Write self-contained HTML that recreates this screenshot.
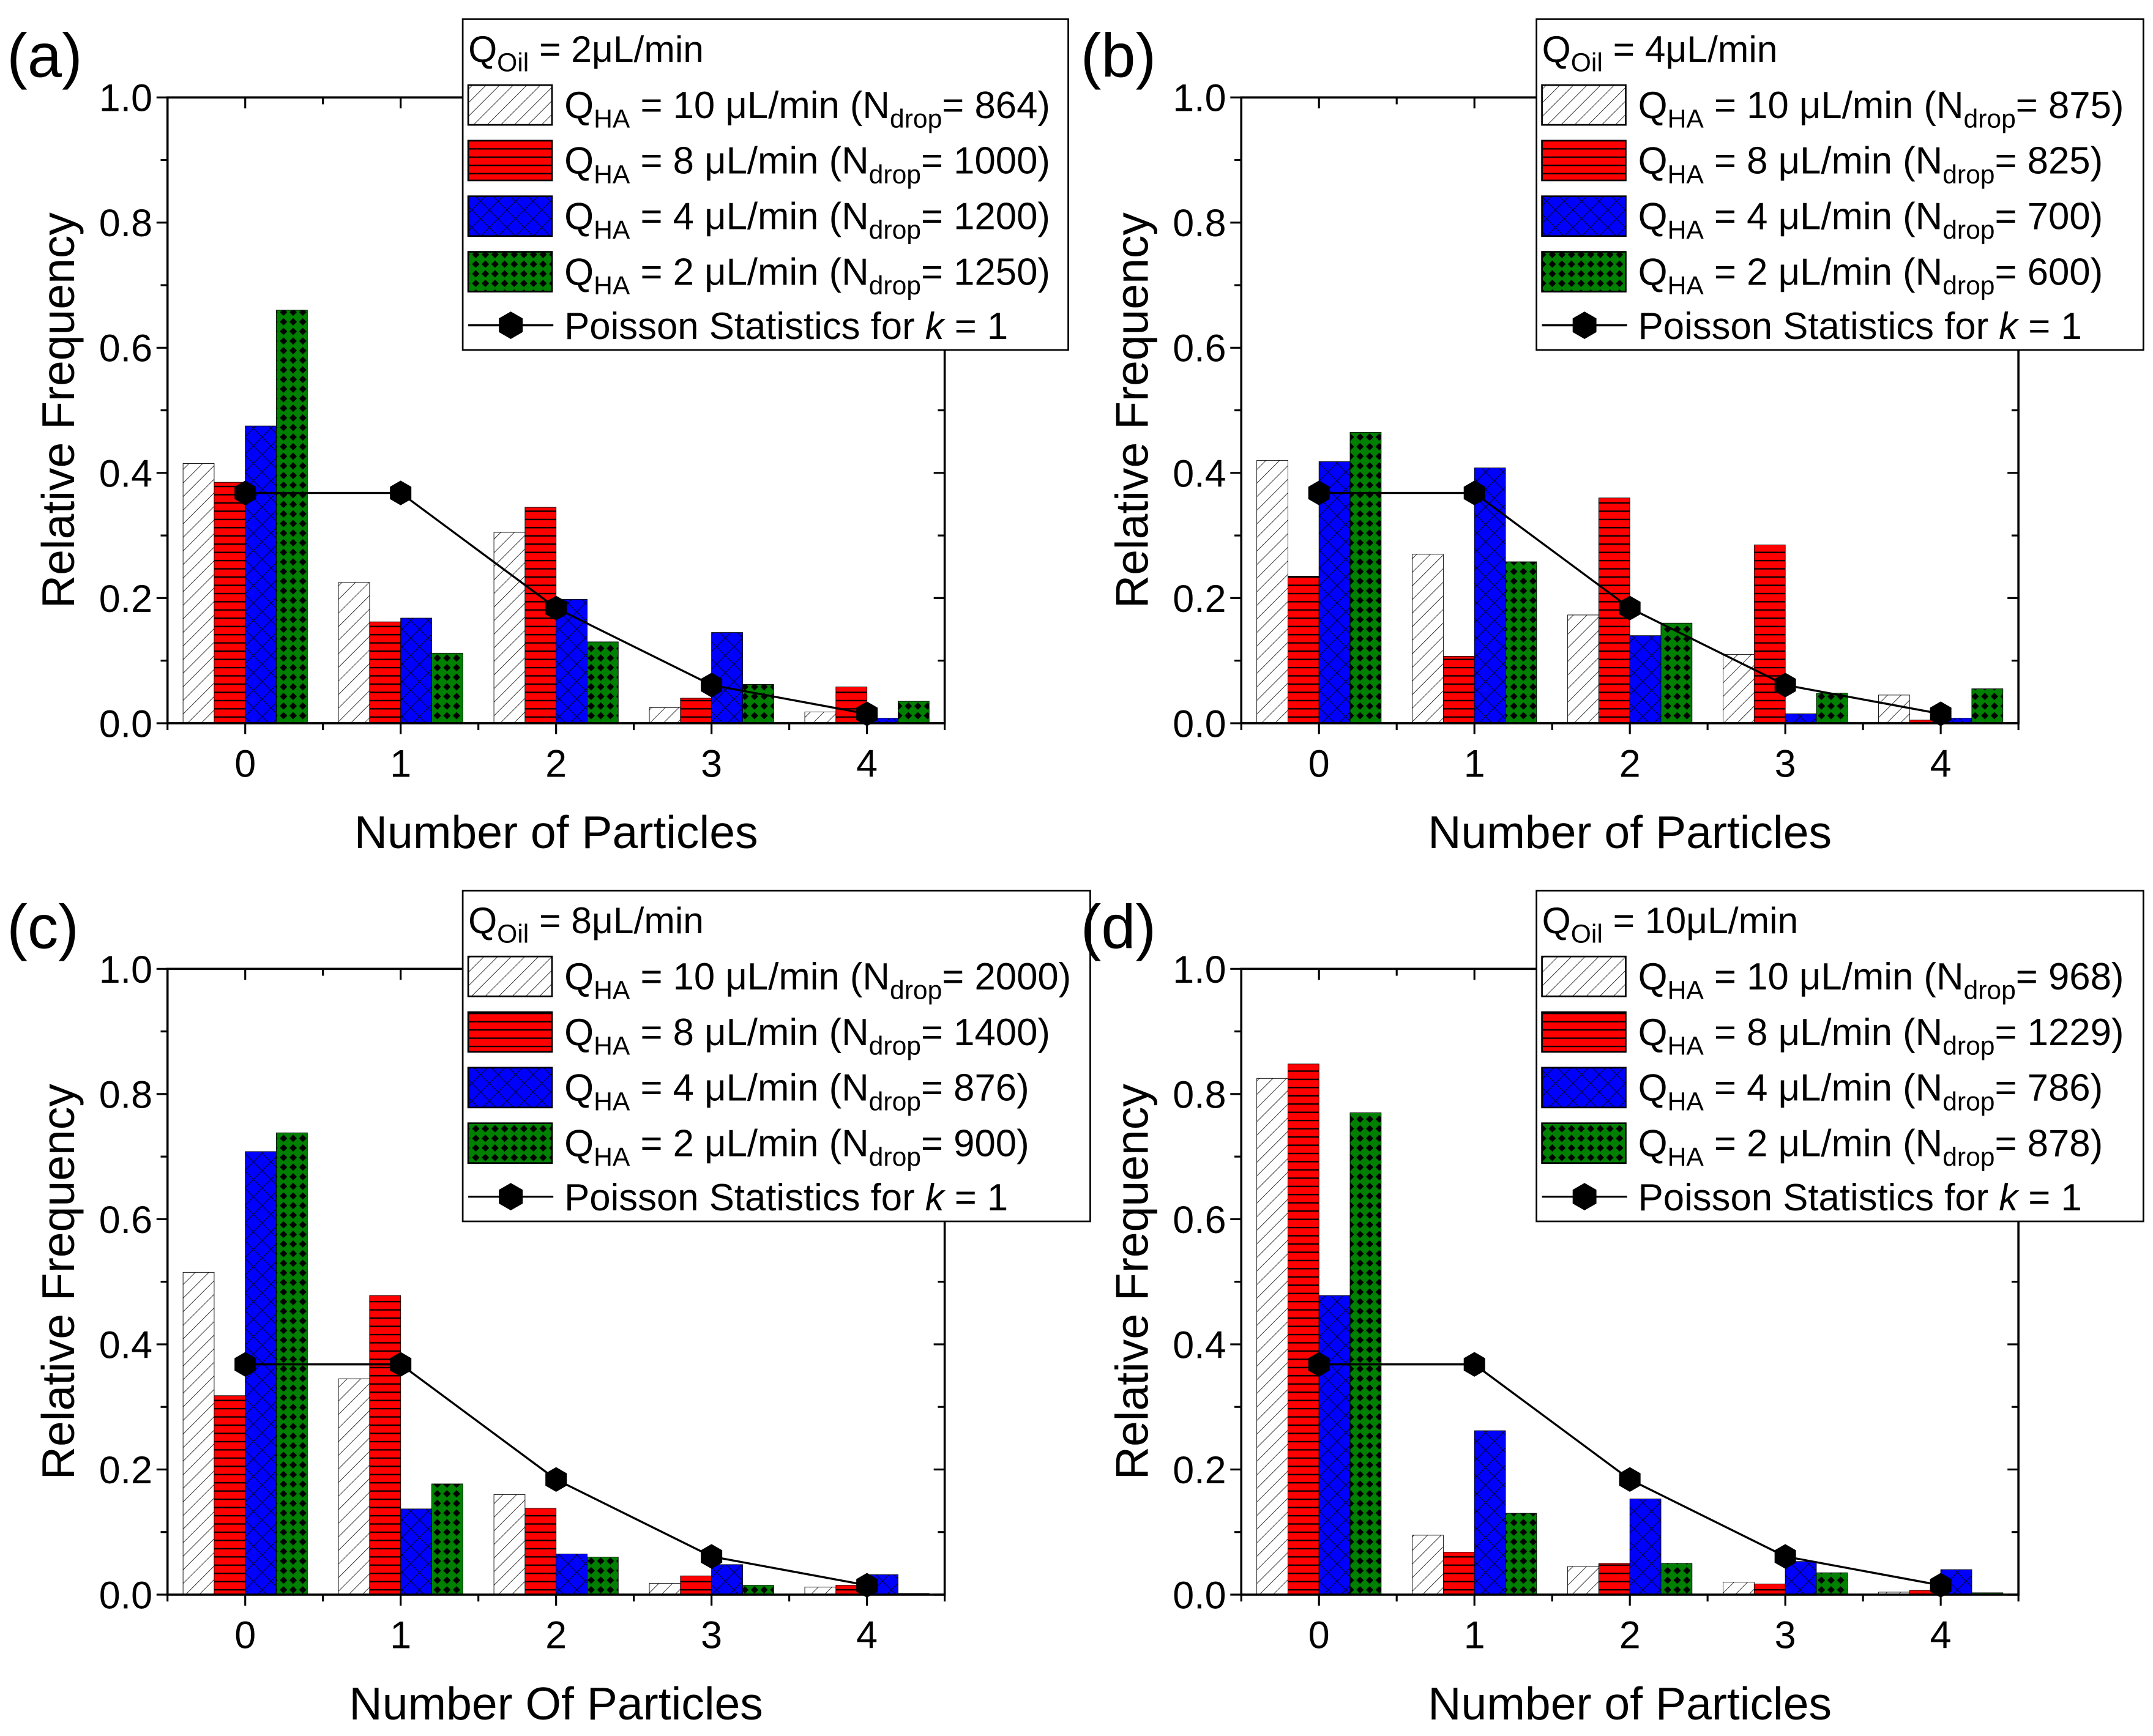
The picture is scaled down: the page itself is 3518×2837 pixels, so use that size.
<!DOCTYPE html>
<html><head><meta charset="utf-8"><style>
html,body{margin:0;padding:0;background:#fff;}
svg{display:block;font-family:"Liberation Sans",Arial,sans-serif;}
</style></head><body>
<svg id="fig" width="3518" height="2837" viewBox="0 0 1568 1265" preserveAspectRatio="none" xmlns="http://www.w3.org/2000/svg">
<defs>
<pattern id="pHatch" patternUnits="userSpaceOnUse" width="7" height="7" patternTransform="rotate(45)">
<rect width="7" height="7" fill="#fff"/><line x1="0" y1="0" x2="0" y2="7" stroke="#000" stroke-width="0.7"/></pattern>
<pattern id="pRed" patternUnits="userSpaceOnUse" width="10" height="6">
<rect width="10" height="6" fill="#ff0000"/><line x1="0" y1="0.5" x2="10" y2="0.5" stroke="#000" stroke-width="1"/></pattern>
<pattern id="pBlue" patternUnits="userSpaceOnUse" width="9" height="9" patternTransform="rotate(45)">
<rect width="9" height="9" fill="#0000ff"/><line x1="0" y1="0" x2="9" y2="0" stroke="#000" stroke-width="0.8"/><line x1="0" y1="0" x2="0" y2="9" stroke="#000" stroke-width="0.8"/></pattern>
<pattern id="pGreen" patternUnits="userSpaceOnUse" width="7" height="7">
<rect width="7" height="7" fill="#008000"/><polygon points="3.5,0.8 6.2,3.5 3.5,6.2 0.8,3.5" fill="#000"/></pattern>
</defs>
</svg>
<script>
const categories=[0,1,2,3,4];
const poisson=[0.368,0.368,0.184,0.061,0.015];
const a10=[0.415,0.225,0.305,0.025,0.018];
const a8=[0.385,0.162,0.345,0.04,0.058];
const a4=[0.475,0.168,0.198,0.145,0.008];
const a2=[0.66,0.112,0.13,0.062,0.035];
const b10=[0.42,0.27,0.173,0.11,0.045];
const b8=[0.235,0.107,0.36,0.285,0.005];
const b4=[0.418,0.408,0.14,0.015,0.008];
const b2=[0.465,0.258,0.16,0.048,0.055];
const c10=[0.515,0.345,0.16,0.018,0.012];
const c8=[0.318,0.478,0.138,0.03,0.015];
const c4=[0.708,0.137,0.065,0.048,0.032];
const c2=[0.738,0.177,0.06,0.015,0.002];
const d10=[0.825,0.095,0.045,0.02,0.004];
const d8=[0.848,0.068,0.05,0.017,0.007];
const d4=[0.478,0.262,0.153,0.053,0.04];
const d2=[0.77,0.13,0.05,0.035,0.003];
const yTicks=["0.0","0.2","0.4","0.6","0.8","1.0"];
const oilLabels=["2","4","8","10"];
const nA=["864","1000","1200","1250"],nB=["875","825","700","600"],nC=["2000","1400","876","900"],nD=["968","1229","786","878"];
const haRates=["10","8","4","2"];

const NS="http://www.w3.org/2000/svg";
const svg=document.getElementById('fig');
function el(tag,attrs,parent){const e=document.createElementNS(NS,tag);for(const k in attrs)e.setAttribute(k,attrs[k]);(parent||svg).appendChild(e);return e;}
const fills=["url(#pHatch)","url(#pRed)","url(#pBlue)","url(#pGreen)"];
const seriesNames=["qha-10","qha-8","qha-4","qha-2"];

function panel(ox,oy,letter,series,ns,oil,xtitle,legW){
  const g=el('g',{});
  
  
  const L=ox+122,R=ox+688,T=oy+71,B=oy+527;
  const xs=v=>L+(v+0.5)*(R-L)/5;
  const ys=v=>B-v*(B-T);
  series.forEach((s,si)=>{
    s.forEach((v,ci)=>{
      const x0=xs(categories[ci]-0.4+si*0.2);
      const r=el('rect',{x:x0,y:ys(v),width:xs(0.2)-xs(0),height:B-ys(v),fill:fills[si],stroke:"#000","stroke-width":0.4},g);
      
      
    });
  });
  const fr=el('rect',{x:L,y:T,width:R-L,height:B-T,fill:"none",stroke:"#000","stroke-width":1.6},g);
  
  
  for(let i=0;i<=10;i++){
    const v=i/10,y=ys(v),len=i%2==0?8:5;
    el('line',{x1:L-len,y1:y,x2:L,y2:y,stroke:"#000","stroke-width":1.4},g);
    el('line',{x1:R,y1:y,x2:R-len,y2:y,stroke:"#000","stroke-width":1.4},g);
    if(i%2==0){
      const t=el('text',{x:L-11,y:y+10,"font-size":28,"text-anchor":"end"},g);
      t.textContent=yTicks[i/2];
      
      
    }
  }
  for(let k=-0.5;k<=4.5;k+=0.5){
    const x=xs(k),major=Math.abs(k-Math.round(k))<1e-6;const len=major?8:5;
    el('line',{x1:x,y1:B,x2:x,y2:B+len,stroke:"#000","stroke-width":1.4},g);
    el('line',{x1:x,y1:T,x2:x,y2:T+len,stroke:"#000","stroke-width":1.4},g);
  }
  categories.forEach(c=>{
    const t=el('text',{x:xs(c),y:B+39,"font-size":28,"text-anchor":"middle"},g);
    t.textContent=String(c);
    
    
  });
  const xt=el('text',{x:ox+405,y:oy+618,"font-size":33.5,"text-anchor":"middle"},g);
  xt.textContent=xtitle;
  
  
  const yt=el('text',{x:0,y:0,"font-size":33.5,"text-anchor":"middle",transform:`translate(${ox+54},${oy+299}) rotate(-90)`},g);
  yt.textContent="Relative Frequency";
  
  
  const pl=el('text',{x:ox+5,y:oy+56,"font-size":45},g);
  pl.textContent="("+letter+")";
  
  
  const pts=poisson.map((v,i)=>xs(categories[i])+","+ys(v)).join(" ");
  const pline=el('polyline',{points:pts,fill:"none",stroke:"#000","stroke-width":1.5},g);
  
  
  const hex=(cx,cy,r)=>{let p=[];for(let k=0;k<6;k++){const a=Math.PI/3*k+Math.PI/6;p.push((cx+r*Math.cos(a))+","+(cy+r*Math.sin(a)));}return p.join(" ");};
  poisson.forEach((v,i)=>{
    const m=el('polygon',{points:hex(xs(categories[i]),ys(v),9),fill:"#000"},g);
    
    
  });
  const lx=ox+337,ly=oy+14;
  const lg=el('g',{},g);
  
  
  el('rect',{x:lx,y:ly,width:legW,height:241,fill:"#fff",stroke:"#000","stroke-width":1.2},lg);
  const t0=el('text',{x:lx+4,y:ly+31,"font-size":27},lg);
  t0.innerHTML=`Q<tspan font-size="19" dy="7">Oil</tspan><tspan dy="-7"> = ${oil}μL/min</tspan>`;
  
  
  for(let i=0;i<4;i++){
    const cy=ly+62+i*40.5;
    const sw=el('rect',{x:lx+4,y:cy-14,width:61,height:29,fill:fills[i],stroke:"#000","stroke-width":1.2},lg);
    
    
    const t=el('text',{x:lx+74,y:cy+10,"font-size":27.5},lg);
    t.innerHTML=`Q<tspan font-size="19" dy="7">HA</tspan><tspan dy="-7"> = ${haRates[i]} μL/min (N</tspan><tspan font-size="19" dy="7">drop</tspan><tspan dy="-7">= ${ns[i]})</tspan>`;
    
    
  }
  const py=ly+223;
  el('line',{x1:lx+4,y1:py,x2:lx+66,y2:py,stroke:"#000","stroke-width":1.5},lg);
  el('polygon',{points:hex(lx+35,py,10),fill:"#000"},lg);
  const tp=el('text',{x:lx+74,y:py+10,"font-size":27.5},lg);
  tp.innerHTML=`Poisson Statistics for <tspan font-style="italic">k</tspan> = 1`;
  
  
}
panel(0,0,'a',[a10,a8,a4,a2],nA,oilLabels[0],"Number of Particles",441);
panel(782,0,'b',[b10,b8,b4,b2],nB,oilLabels[1],"Number of Particles",442);
panel(0,635,'c',[c10,c8,c4,c2],nC,oilLabels[2],"Number Of Particles",457);
panel(782,635,'d',[d10,d8,d4,d2],nD,oilLabels[3],"Number of Particles",442);
</script>
</body></html>
